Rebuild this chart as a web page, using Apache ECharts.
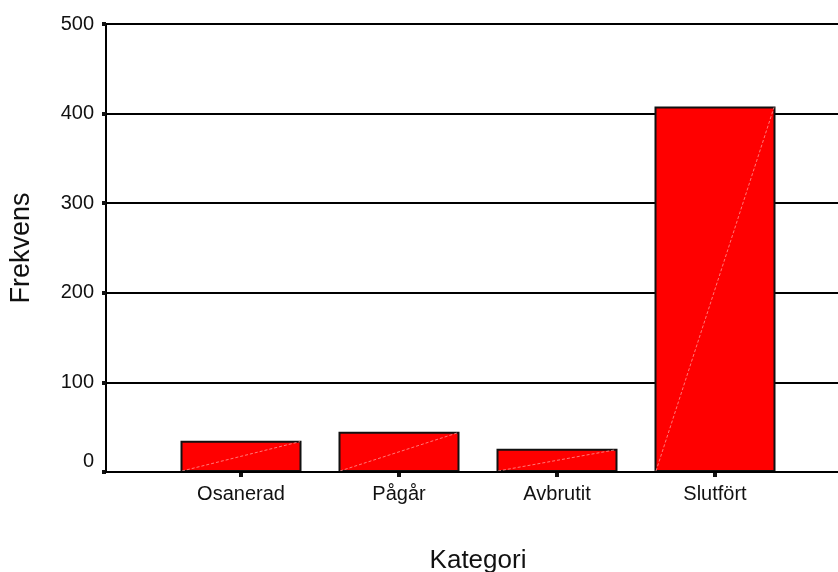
<!DOCTYPE html>
<html>
<head>
<meta charset="utf-8">
<script src="https://cdn.jsdelivr.net/npm/echarts@6/dist/echarts.min.js"></script>
<style>
html,body{margin:0;padding:0;background:#fff;}
#chart{width:838px;height:572px;}
</style>
</head>
<body>
<div id="chart"></div>
<script>
var categories = ['Osanerad', 'Pågår', 'Avbrutit', 'Slutfört'];
var frekvens = [35, 45, 26, 408];
var yTicks = [0, 100, 200, 300, 400, 500];

var chart = echarts.init(document.getElementById('chart'), null, {renderer: 'canvas'});
var FONT = '"Liberation Sans", Arial, sans-serif';
var BAR_W = 121;

var option = {
  animation: false,
  backgroundColor: '#fff',
  grid: [
    {left: 106, right: 0, top: 24, bottom: 100, containLabel: false, outerBoundsMode: 'none'},
    {left: 162, width: 632, top: 24, bottom: 100, containLabel: false, outerBoundsMode: 'none'}
  ],
  xAxis: [
    {
      gridIndex: 0, type: 'value', min: 0, max: 1, z: 10,
      axisLine: {show: true, onZero: false, lineStyle: {color: '#000', width: 2}},
      axisTick: {show: false}, axisLabel: {show: false}, splitLine: {show: false}
    },
    {
      gridIndex: 1, type: 'category', data: categories,
      axisLine: {show: false},
      axisTick: {show: true, alignWithLabel: true, length: 5, inside: false,
        lineStyle: {color: '#111', width: 4}},
      axisLabel: {color: '#111', fontFamily: FONT, fontSize: 20, margin: 12},
      name: 'Kategori', nameLocation: 'middle', nameGap: 76,
      nameTextStyle: {color: '#111', fontFamily: FONT, fontSize: 26}
    }
  ],
  yAxis: [
    {
      gridIndex: 0, type: 'value', min: yTicks[0], max: yTicks[yTicks.length - 1], interval: 100,
      axisLine: {show: true, lineStyle: {color: '#000', width: 2}},
      axisTick: {show: true, length: 4, lineStyle: {color: '#111', width: 4}},
      axisLabel: {
        color: '#111', fontFamily: FONT, fontSize: 20, margin: 12,
        formatter: function (v) { return v === 0 ? '{z|0}' : String(v); },
        rich: {z: {fontFamily: FONT, fontSize: 20, color: '#111', padding: [0, 0, 22, 0]}}
      },
      splitLine: {show: true, lineStyle: {color: '#000', width: 2}},
      name: 'Frekvens', nameLocation: 'middle', nameGap: 71,
      nameTextStyle: {color: '#111', fontFamily: FONT, fontSize: 27}
    },
    {
      gridIndex: 1, type: 'value', min: yTicks[0], max: yTicks[yTicks.length - 1], interval: 100,
      show: false
    }
  ],
  series: [
    {
      type: 'bar', xAxisIndex: 1, yAxisIndex: 1, data: frekvens,
      barWidth: BAR_W,
      itemStyle: {color: '#ff0000', borderColor: '#111', borderWidth: 2}
    },
    {
      type: 'custom', xAxisIndex: 1, yAxisIndex: 1, silent: true, z: 5,
      data: frekvens.map(function (v, i) { return [i, v]; }),
      renderItem: function (params, api) {
        var i = api.value(0), v = api.value(1);
        var p0 = api.coord([i, 0]);
        var p1 = api.coord([i, v]);
        var hw = BAR_W / 2 - 1.5;
        return {
          type: 'line',
          shape: {x1: p0[0] - hw, y1: p0[1] - 1, x2: p1[0] + hw, y2: p1[1] + 1},
          style: {stroke: 'rgba(255,150,150,0.8)', lineWidth: 1, lineDash: [3, 2]}
        };
      }
    }
  ]
};
chart.setOption(option);
</script>
</body>
</html>
